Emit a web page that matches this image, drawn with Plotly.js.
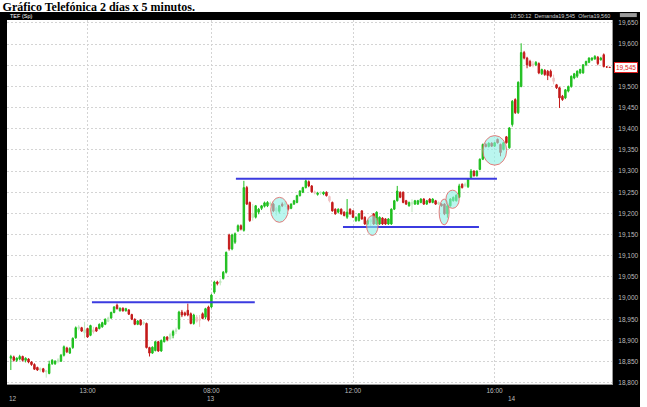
<!DOCTYPE html>
<html><head><meta charset="utf-8">
<script src="https://cdn.plot.ly/plotly-3.0.1.min.js"></script>
<style>
html,body{margin:0;padding:0;background:#fff;}
#frame{position:absolute;left:0;top:12px;width:640px;height:395px;background:#000;}
#chart{position:absolute;left:0;top:0;width:647px;height:407px;}
</style></head><body>
<div id="frame"></div><div id="chart"></div>
<script>
// 5-minute bars: 12th 10:50-16:25, 13th 08:00-16:25, 14th 08:00-10:45
const openP = [
18858,18861,18853,18856,18862,18853,18856,18849,18843,18836,
18830,18833,18826,18822,18845,18845,18850,18851,18865,18882,
18870,18883,18906,18928,18930,18918,18928,18912,18925,18930,
18928,18932,18938,18945,18953,18966,18983,18970,18976,18970,
18972,18961,18950,18938,18948,18940,18940,18883,18870,18876,
18897,18875,18897,18908,18904,18912,18921,18928,18967,18965,
18971,18963,18940,18955,18950,18963,18955,18979,18979,19014,
19038,19036,19046,19061,19149,19116,19132,19159,19171,19160,
19261,19226,19190,19191,19203,19212,19217,19218,19222,19222,
19205,19205,19222,19220,19218,19212,19222,19226,19242,19250,
19261,19275,19265,19251,19245,19248,19246,19250,19240,19226,
19210,19203,19210,19203,19191,19210,19206,19183,19183,19206,
19191,19175,19180,19199,19175,19175,19189,19187,19175,19175,
19210,19230,19250,19250,19230,19218,19222,19222,19222,19226,
19234,19222,19234,19226,19230,19222,19222,19222,19199,19218,
19230,19230,19238,19269,19265,19263,19285,19300,19289,19304,
19328,19363,19358,19366,19359,19375,19363,19351,19381,19355,
19410,19469,19438,19500,19580,19567,19559,19553,19551,19554,
19530,19538,19536,19536,19520,19504,19497,19477,19473,19489,
19500,19520,19524,19532,19532,19551,19557,19563,19565,19569,
19563,19575,19546,19545];
const highP = [
18866,18864,18860,18866,18864,18860,18858,18851,18846,18838,
18836,18835,18830,18852,18856,18853,18858,18868,18888,18885,
18884,18907,18933,18936,18932,18944,18930,18937,18932,18932,
18940,18944,18952,18956,18968,18981,18987,18978,18978,18977,
18974,18963,18952,18948,18950,18945,18942,18885,18886,18899,
18899,18902,18910,18910,18918,18925,18930,18970,18972,18968,
18987,18966,18963,18960,18960,18966,18977,18982,19010,19041,
19041,19046,19064,19110,19152,19152,19155,19174,19174,19277,
19265,19228,19222,19220,19213,19220,19228,19229,19228,19225,
19215,19220,19226,19230,19221,19224,19232,19244,19255,19263,
19280,19278,19267,19254,19251,19252,19252,19252,19242,19228,
19212,19212,19212,19205,19234,19212,19208,19193,19201,19208,
19193,19185,19188,19201,19205,19193,19191,19189,19189,19212,
19232,19265,19252,19252,19232,19228,19234,19232,19232,19236,
19236,19232,19236,19236,19232,19228,19224,19224,19220,19236,
19240,19245,19270,19271,19273,19283,19305,19302,19302,19330,
19365,19366,19368,19368,19369,19377,19365,19369,19383,19404,
19468,19472,19512,19602,19584,19570,19563,19560,19560,19557,
19542,19541,19539,19540,19528,19506,19499,19480,19494,19502,
19526,19532,19538,19542,19553,19561,19569,19569,19574,19572,
19570,19578,19547,19546];
const lowP = [
18830,18850,18849,18853,18850,18848,18846,18840,18830,18828,
18826,18824,18812,18820,18842,18842,18846,18849,18862,18870,
18868,18880,18904,18924,18920,18905,18906,18910,18916,18920,
18926,18930,18936,18943,18951,18964,18973,18968,18968,18968,
18960,18948,18936,18936,18935,18936,18881,18862,18868,18874,
18873,18873,18895,18898,18900,18905,18915,18925,18955,18957,
18957,18938,18937,18942,18932,18950,18950,18945,18976,19010,
19030,19030,19044,19058,19112,19113,19128,19156,19160,19157,
19220,19180,19183,19188,19198,19208,19214,19215,19218,19203,
19195,19200,19215,19215,19207,19210,19220,19224,19240,19248,
19259,19262,19249,19245,19242,19244,19243,19240,19226,19204,
19197,19200,19197,19193,19187,19197,19189,19180,19181,19185,
19173,19172,19169,19173,19173,19173,19173,19173,19173,19173,
19208,19228,19236,19224,19220,19216,19203,19220,19220,19224,
19220,19220,19224,19224,19220,19220,19216,19196,19190,19216,
19228,19228,19236,19259,19263,19260,19283,19287,19287,19302,
19326,19356,19356,19357,19357,19365,19335,19349,19365,19353,
19405,19435,19435,19498,19564,19543,19546,19545,19548,19529,
19527,19525,19515,19521,19505,19494,19449,19466,19470,19486,
19497,19517,19520,19529,19530,19548,19555,19560,19563,19550,
19561,19545,19545,19544];
const closeP = [
18862,18853,18858,18862,18853,18858,18849,18843,18832,18830,
18833,18826,18828,18844,18853,18851,18854,18865,18885,18873,
18881,18905,18930,18932,18922,18925,18908,18935,18920,18922,
18938,18942,18950,18953,18966,18979,18975,18976,18970,18975,
18962,18950,18938,18946,18937,18942,18883,18870,18884,18897,
18875,18900,18908,18902,18914,18921,18925,18967,18960,18960,
18960,18940,18960,18945,18948,18952,18975,18948,19007,19038,
19034,19040,19061,19108,19116,19149,19152,19171,19163,19261,
19222,19183,19200,19218,19210,19218,19225,19226,19224,19206,
19212,19218,19218,19224,19210,19222,19230,19242,19253,19261,
19277,19265,19251,19248,19248,19250,19250,19242,19230,19206,
19199,19210,19199,19195,19203,19199,19191,19191,19199,19187,
19175,19183,19185,19175,19203,19191,19175,19175,19187,19210,
19230,19253,19238,19226,19222,19226,19226,19230,19230,19234,
19222,19230,19226,19234,19222,19226,19218,19199,19218,19234,
19238,19243,19265,19261,19269,19281,19300,19289,19300,19328,
19363,19358,19366,19359,19367,19367,19344,19367,19367,19402,
19465,19438,19510,19580,19567,19551,19549,19550,19557,19532,
19540,19528,19526,19524,19512,19497,19473,19469,19492,19500,
19524,19530,19536,19540,19551,19559,19567,19567,19571,19554,
19567,19547,19546,19545];
// low-volume (pale) bars
const paleBars = [10,12,16,23,25,28,33,45,54,56,63,64,71,82,88,90,93,103,105,108,122,136,145,154,177,184];

// time axis: bar numbers of labelled times
const tickBars = [26, 68, 116, 164];
const tickLabels = ['13:00', '08:00', '12:00', '16:00'];
const dayBars = [0, 68, 170];
const dayLabels = ['12', '13', '14'];

// price axis ticks (19,550 is covered by the last-price box)
const priceTicks = [18800,18850,18900,18950,19000,19050,19100,19150,19200,19250,19300,19350,19400,19450,19500,19550,19600,19650];
const priceLabels = ['18,800','18,850','18,900','18,950','19,000','19,050','19,100','19,150','19,200','19,250','19,300','19,350','19,400','19,450','19,500','','19,600','19,650'];

// analyst drawings (bar number, price)
const lineStart = [27.5, 76.3, 112.6];
const lineEnd = [82.7, 164.8, 158.7];
const linePrice = [18990, 19282, 19168];
const ellX0 = [88.1, 120.6, 145.2, 147.5, 160.0];
const ellX1 = [94.0, 124.5, 148.6, 152.0, 168.1];
const ellY0 = [19179, 19148, 19173, 19212, 19314];
const ellY1 = [19238, 19195, 19234, 19255, 19384];

const lastPrice = 19545;
const headerText = '10:50:12  Demanda19,545  Oferta19,560';

const paleSet = new Set(paleBars);
function pick(arr, pale) {
  const out = [];
  arr.forEach((v, i) => { if (paleSet.has(i) === pale) out.push(v); });
  return out;
}
const idx = openP.map((_, i) => i);
function makeTrace(pale) {
  const g = pale ? '#bfe8bf' : '#1fbf1f';
  const r = pale ? '#f0c0c0' : '#c41a1a';
  return {
    type: 'candlestick',
    x: pick(idx, pale), open: pick(openP, pale), high: pick(highP, pale),
    low: pick(lowP, pale), close: pick(closeP, pale),
    increasing: {line: {color: g, width: 1}, fillcolor: g},
    decreasing: {line: {color: r, width: 1}, fillcolor: r},
    whiskerwidth: 0, hoverinfo: 'skip', showlegend: false
  };
}

const tickFont = {family: 'Liberation Sans, Arial, sans-serif', size: 6.5, color: '#bdbdbd'};
const shapes = [];
for (let i = 0; i < linePrice.length; i++) {
  shapes.push({type: 'line', xref: 'x', yref: 'y', x0: lineStart[i], x1: lineEnd[i],
    y0: linePrice[i], y1: linePrice[i], line: {color: '#3b3be0', width: 2}});
}
for (let i = 0; i < ellX0.length; i++) {
  shapes.push({type: 'circle', xref: 'x', yref: 'y', x0: ellX0[i], x1: ellX1[i],
    y0: ellY0[i], y1: ellY1[i], fillcolor: 'rgba(140,240,228,0.6)',
    line: {color: 'rgba(228,110,110,0.9)', width: 1}});
}
shapes.push({type: 'rect', xref: 'paper', yref: 'paper', x0: 1.013, x1: 1.041, y0: 1.008, y1: 1.019,
  fillcolor: '#9a9a9a', line: {width: 0}});

const annotations = [
  {xref: 'paper', yref: 'paper', x: 0, y: 1.011, xanchor: 'left', yanchor: 'middle', xshift: 1,
   text: 'TEF (Sp)', showarrow: false, font: {family: 'Liberation Sans, Arial', size: 5.5, color: '#ffffff'}},
  {xref: 'paper', yref: 'paper', x: 1, y: 1.011, xanchor: 'right', yanchor: 'middle',
   text: headerText, showarrow: false, font: {family: 'Liberation Sans, Arial', size: 5.5, color: '#d0d0d0'}},
  {xref: 'paper', yref: 'y', x: 1, y: lastPrice, xanchor: 'left', yanchor: 'middle', xshift: 2,
   text: lastPrice.toLocaleString('en-US'), showarrow: false, bgcolor: '#ffffff', bordercolor: '#e02020',
   borderwidth: 1, borderpad: 1, font: {family: 'Liberation Sans, Arial', size: 6.5, color: '#e02020'}}
];
dayLabels.forEach((d, i) => {
  annotations.push({xref: 'x', yref: 'paper', x: dayBars[i], y: -0.041, xanchor: i === 0 ? 'left' : 'center',
    yanchor: 'middle', xshift: i === 0 ? -4 : 0, text: d, showarrow: false, font: tickFont});
});

const layout = {
  width: 647, height: 407,
  margin: {l: 7, r: 35, t: 20, b: 23, pad: 0},
  paper_bgcolor: 'rgba(0,0,0,0)', plot_bgcolor: '#ffffff',
  title: {text: '<b>Gráfico Telefónica 2 días x 5 minutos.</b>', x: 0.004, xanchor: 'left',
          y: 0.983, yanchor: 'middle', xref: 'container', yref: 'container',
          font: {family: 'Liberation Serif, Times New Roman, serif', size: 12, color: '#000'}},
  xaxis: {type: 'linear', range: [-1.3, 203.8], tickvals: tickBars, ticktext: tickLabels,
          showgrid: true, gridcolor: '#d4d4d4', griddash: '2px,2px', gridwidth: 1,
          zeroline: false, showline: true, linecolor: '#9a9a9a', linewidth: 1, ticks: '',
          tickfont: tickFont, rangeslider: {visible: false}, fixedrange: true},
  yaxis: {side: 'right', range: [18797, 19657], tickvals: priceTicks, ticktext: priceLabels,
          showgrid: true, gridcolor: '#d4d4d4', griddash: '2px,2px', gridwidth: 1,
          zeroline: false, showline: true, linecolor: '#9a9a9a', linewidth: 1, ticks: '',
          ticklabelstandoff: 4, tickfont: tickFont, fixedrange: true},
  shapes: shapes, annotations: annotations,
  showlegend: false, hovermode: false, boxgap: 0.3
};

Plotly.newPlot('chart', [makeTrace(false), makeTrace(true)], layout, {staticPlot: true, displayModeBar: false});
</script></body></html>
